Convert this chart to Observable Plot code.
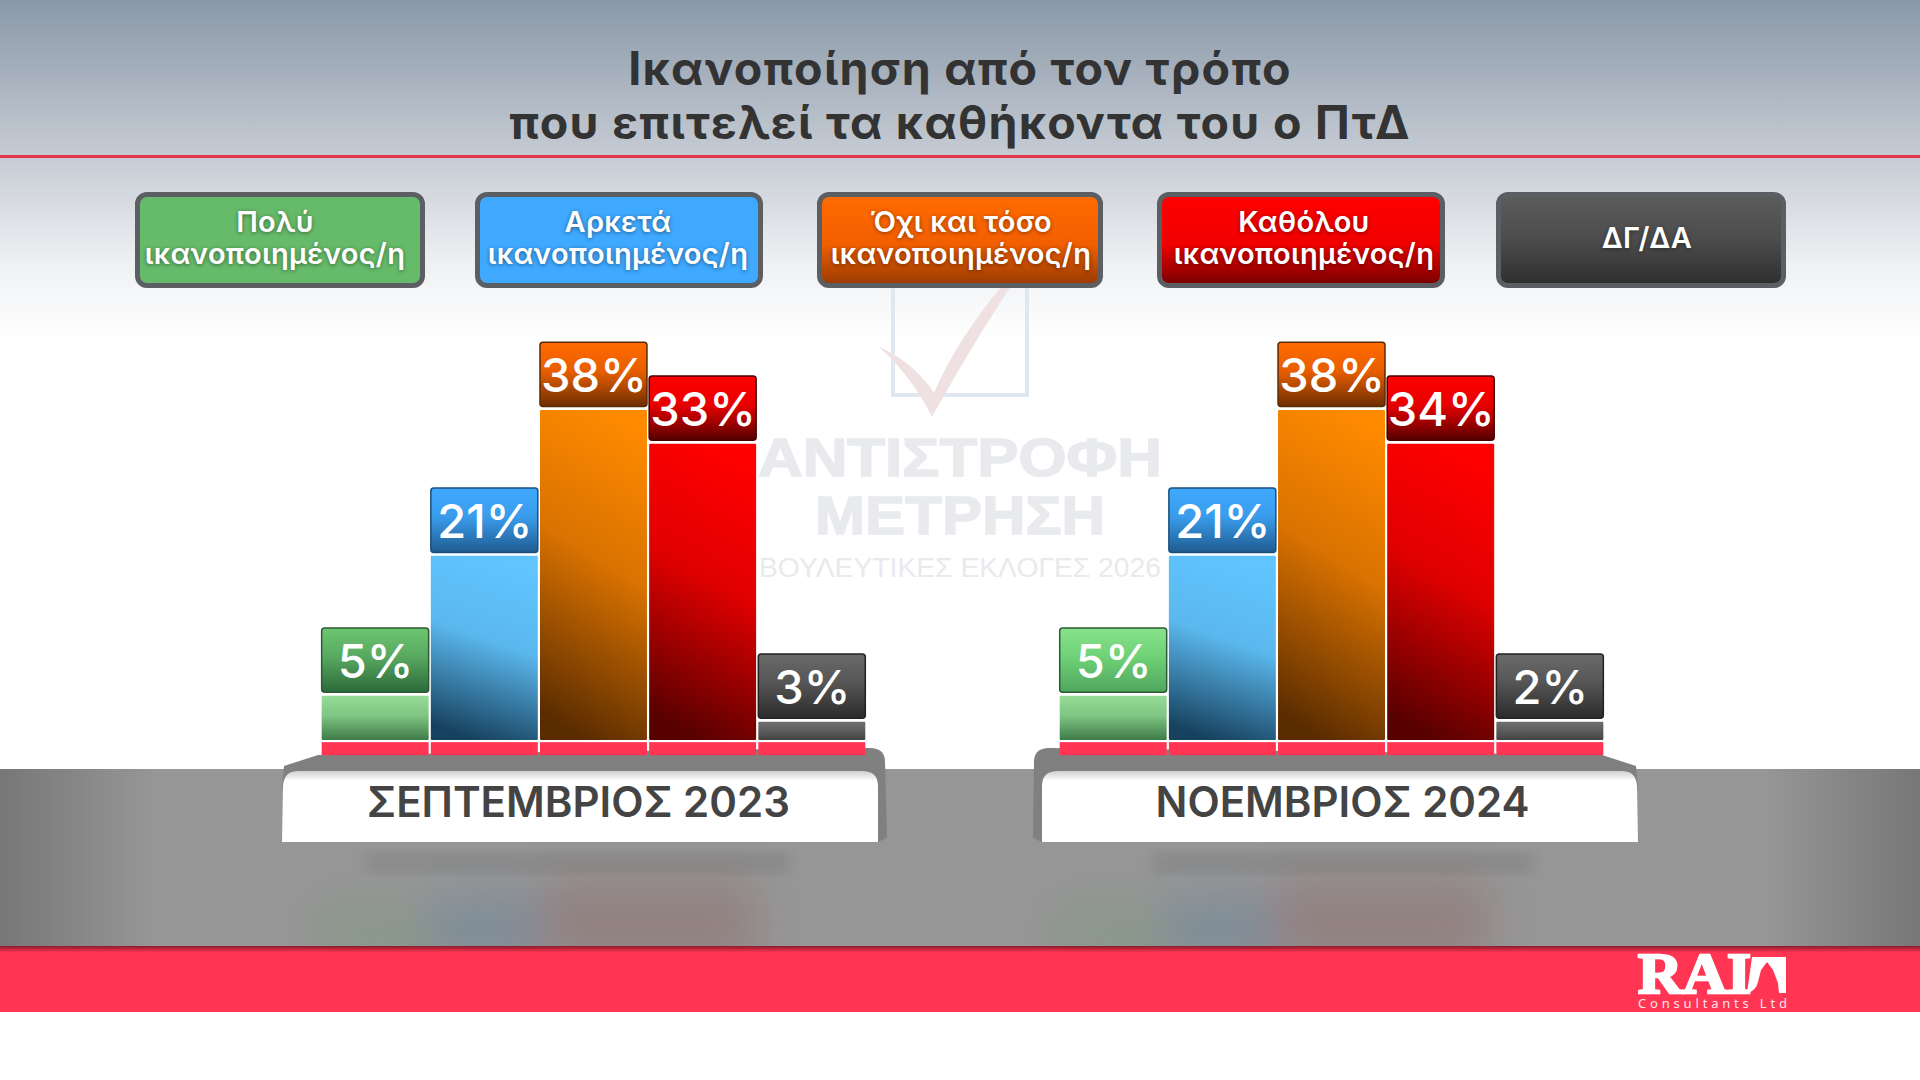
<!DOCTYPE html>
<html lang="el">
<head>
<meta charset="utf-8">
<script src="https://cdn.jsdelivr.net/npm/d3@7"></script>
<script src="https://cdn.jsdelivr.net/npm/@observablehq/plot@0.6"></script>
<style>
html,body{margin:0;padding:0;background:#fff;}
#stage{position:relative;width:1920px;height:1080px;overflow:hidden;font-family:Inter,"Noto Sans",sans-serif;}
#stage>svg,#chart{position:absolute;left:0;top:0;}
#chart svg{display:block;}
#title{position:absolute;left:0;width:1920px;top:41px;text-align:center;color:#333;font-weight:700;font-size:46.5px;line-height:54px;letter-spacing:1.3px;}
.leg{position:absolute;top:192px;height:84px;box-sizing:content-box;border:5px solid #5b5e62;border-radius:12px;color:#fff;font-weight:600;font-size:29px;line-height:32px;text-align:center;display:flex;align-items:center;justify-content:center;text-shadow:0 1px 4px rgba(0,0,0,.45);letter-spacing:.3px;padding-bottom:2px;}
.leg span{position:relative;top:-1px;}
</style>
</head>
<body>
<div id="stage">
<svg width="1920" height="1080" xmlns="http://www.w3.org/2000/svg">
  <defs>
    <linearGradient id="sky" x1="0" y1="0" x2="0" y2="1">
      <stop offset="0" stop-color="#8a98a8"/><stop offset=".46" stop-color="#c6ccd4"/><stop offset=".78" stop-color="#eff1f3"/><stop offset="1" stop-color="#ffffff"/>
    </linearGradient>
    <linearGradient id="floor" x1="0" y1="0" x2="1" y2="0">
      <stop offset="0" stop-color="#777"/><stop offset=".08" stop-color="#969696"/><stop offset=".92" stop-color="#969696"/><stop offset="1" stop-color="#777"/>
    </linearGradient>
    <linearGradient id="band" x1="0" y1="0" x2="0" y2="1">
      <stop offset="0" stop-color="#8c1c2c"/><stop offset=".1" stop-color="#ff3553"/><stop offset="1" stop-color="#ff3553"/>
    </linearGradient>
    <linearGradient id="plate" x1="0" y1="0" x2="0" y2="1">
      <stop offset="0" stop-color="#cfcfcf"/><stop offset=".14" stop-color="#ffffff"/><stop offset="1" stop-color="#ffffff"/>
    </linearGradient>
    <filter id="b4"><feGaussianBlur stdDeviation="6"/></filter>
    <filter id="b12" x="-40%" y="-60%" width="180%" height="220%"><feGaussianBlur stdDeviation="22"/></filter>
  </defs>
  <rect width="1920" height="340" fill="url(#sky)"/>
  <rect y="155" width="1920" height="3" fill="#e0354d"/>

  <!-- watermark -->
  <rect x="893" y="280" width="134" height="115" fill="none" stroke="#dfe8f1" stroke-width="4"/>
  <path d="M879 347C905 358 925 378 934 393C950 355 975 318 1002 286L1015 280C985 325 957 372 932 417C920 392 900 365 879 347Z" fill="#efe0e2"/>
  <g fill="#e8eaed" font-family="'Liberation Sans',Arial,sans-serif" font-weight="700" text-anchor="middle">
    <text x="960" y="476" font-size="54" textLength="404" lengthAdjust="spacingAndGlyphs" stroke="#e8eaed" stroke-width="1.5">ΑΝΤΙΣΤΡΟΦΗ</text>
    <text x="960" y="534" font-size="54" textLength="290" lengthAdjust="spacingAndGlyphs" stroke="#e8eaed" stroke-width="1.5">ΜΕΤΡΗΣΗ</text>
    <text x="960" y="577" font-size="27" font-weight="400" textLength="402" lengthAdjust="spacingAndGlyphs">ΒΟΥΛΕΥΤΙΚΕΣ ΕΚΛΟΓΕΣ 2026</text>
  </g>

  <!-- floor -->
  <rect y="769" width="1920" height="177" fill="url(#floor)"/>
  <g filter="url(#b12)" opacity=".3">
    <rect x="318" y="905" width="110" height="60" fill="#6f9a72"/>
    <rect x="430" y="895" width="110" height="70" fill="#4f7a9e"/>
    <rect x="540" y="880" width="215" height="85" fill="#8a5552"/>
    <rect x="1058" y="905" width="110" height="60" fill="#6f9a72"/>
    <rect x="1166" y="895" width="110" height="70" fill="#4f7a9e"/>
    <rect x="1273" y="880" width="215" height="85" fill="#8a5552"/>
  </g>
  <g filter="url(#b4)" opacity=".1" fill="#333">
    <rect x="366" y="852" width="424" height="22"/>
    <rect x="1152" y="852" width="382" height="22"/>
  </g>

  <!-- platforms -->
  <path d="M282 790L284 766L318 755L870 748Q885 748 885 762L887 838L878 842Z" fill="#808080"/>
  <path d="M1033 838L1034 762Q1034 748 1049 748L1602 755L1636 766L1638 790L1042 842Z" fill="#808080"/>
  <path d="M282 842L283 786Q284 771 298 771L862 771Q878 771 878 786L878 842Z" fill="url(#plate)"/>
  <path d="M1042 842L1042 786Q1042 771 1058 771L1622 771Q1636 771 1637 786L1638 842Z" fill="url(#plate)"/>

  <!-- bottom band and logo -->
  <rect y="946" width="1920" height="66" fill="url(#band)"/>
  <text x="1638" y="993" font-family="'Liberation Serif',serif" font-weight="700" font-size="56" fill="#fff" stroke="#fff" stroke-width="2.5" textLength="113" lengthAdjust="spacingAndGlyphs">RAI</text>
  <path d="M1752 957H1786V993H1779L1778 983L1773 970L1767 962L1761 970L1758 982Q1756 991 1747 993Z" fill="#fff"/>
  <text x="1638" y="1008" font-family="'Noto Sans',sans-serif" font-size="13" fill="#ffe3e7" textLength="149">Consultants Ltd</text>
</svg>

<div id="chart"></div>

<div id="title">Ικανοποίηση από τον τρόπο<br>που επιτελεί τα καθήκοντα του ο ΠτΔ</div>
<div id="legend"></div>
</div>

<script>
const categories = ["Πολύ ικανοποιημένος/η", "Αρκετά ικανοποιημένος/η", "Όχι και τόσο ικανοποιημένος/η", "Καθόλου ικανοποιημένος/η", "ΔΓ/ΔΑ"];
const legendLines = [["Πολύ","ικανοποιημένος/η"],["Αρκετά","ικανοποιημένος/η"],["Όχι και τόσο","ικανοποιημένος/η"],["Καθόλου","ικανοποιημένος/η"],["ΔΓ/ΔΑ"]];
const months = ["ΣΕΠΤΕΜΒΡΙΟΣ 2023", "ΝΟΕΜΒΡΙΟΣ 2024"];
const september2023Labels = [5, 21, 38, 33, 3];
const november2024Labels = [5, 21, 38, 34, 2];
const september2023Bars = [5.1, 21.2, 38, 34.1, 2.1];
const november2024Bars = [5.1, 21.2, 38, 34.1, 2.1];

const barStops = [
  ["#97dc97","#7fc583","#3f7b48"],
  ["#60c5ff","#5bb8ee","#17425f"],
  ["#ff8a00","#d97200","#5a2c00"],
  ["#ff0000","#e00000","#560000"],
  ["#6e6e6e","#5e5e5e","#444444"]
];
const tileStops = [
  [["#6cc770","#58a860","#2c6a3a"],["#87e38b","#6fd177","#4fa65d"]],
  [["#3fa9ff","#3a9bea","#1f5c92"],["#3fa9ff","#3a9bea","#1f5c92"]],
  [["#ff6a00","#e85e00","#6e2e00"],["#ff6a00","#e85e00","#6e2e00"]],
  [["#ff0000","#e80000","#560000"],["#ff0000","#e80000","#560000"]],
  [["#6a6a6a","#555555","#2b2b2b"],["#6a6a6a","#555555","#2b2b2b"]]
];
const tileBorders = ["#2c5a36","#1b4f7c","#5c2a00","#4a0000","#222222"];
const legendFills = [
  "#66bb6a",
  "#3fa9ff",
  "linear-gradient(#ff6a00 0%,#f25f00 55%,#9c3c00 100%)",
  "linear-gradient(#ff0000 0%,#f00000 55%,#7c0000 100%)",
  "linear-gradient(#5b5b5b 0%,#4c4c4c 50%,#2f2f2f 100%)"
];

const rows = [];
months.forEach((month, m) => {
  const bars = m === 0 ? september2023Bars : november2024Bars;
  const labels = m === 0 ? september2023Labels : november2024Labels;
  categories.forEach((category, i) => {
    const bar = bars[i];
    rows.push({month, m, i, category, bar, label: labels[i] + "%",
      barFill: `url(#bar${i})`, tileFill: `url(#tile${i}-${m})`, border: tileBorders[i],
      tileLow: bar + 0.4, tileHigh: bar + 0.4 + 7.4, tileMid: bar + 0.4 + 3.7});
  });
});

const ns = "http://www.w3.org/2000/svg";
function gradientDefs() {
  const defs = document.createElementNS(ns, "defs");
  const add = (id, stops, diagonal) => {
    const g = document.createElementNS(ns, "linearGradient");
    g.setAttribute("id", id);
    g.setAttribute("x1", diagonal ? 0.62 : 0); g.setAttribute("y1", 0);
    g.setAttribute("x2", diagonal ? 0.42 : 0); g.setAttribute("y2", 1);
    [0, .45, 1].forEach((o, k) => {
      const s = document.createElementNS(ns, "stop");
      s.setAttribute("offset", o); s.setAttribute("stop-color", stops[k]); g.appendChild(s);
    });
    defs.appendChild(g);
  };
  barStops.forEach((s, i) => add(`bar${i}`, s, i >= 1 && i <= 3));
  tileStops.forEach((pair, i) => pair.forEach((s, m) => add(`tile${i}-${m}`, s, false)));
  return defs;
}

const monthText = (month, dx) => Plot.text([{month}], {
  fx: "month", frameAnchor: "bottom", dy: -277, dx, x: () => categories[2], text: "month",
  fill: "#444", fontSize: 42, fontWeight: 600, fontFamily: "Inter, sans-serif", lineAnchor: "middle"
});

const plot = Plot.plot({
  width: 1920, height: 1080, margin: 0, marginLeft: 5,
  style: {background: "transparent"},
  fx: {domain: months, paddingInner: 0.2575, paddingOuter: 0.4261, axis: null, label: null, round: false},
  x: {domain: categories, padding: 0.02, axis: null, label: null, round: false},
  y: {domain: [-39.15, 85.2], axis: null, label: null},
  color: {type: "identity"},
  marks: [
    gradientDefs,
    Plot.barY(rows, {fx: "month", x: "category", y1: -0.25, y2: -1.75, fill: "#ff3553"}),
    Plot.barY(rows, {fx: "month", x: "category", y1: 0, y2: "bar", fill: "barFill", rx: 1}),
    Plot.barY(rows, {fx: "month", x: "category", y1: "tileLow", y2: "tileHigh", fill: "tileFill", stroke: "border", strokeWidth: 1.5, rx: 3}),
    Plot.text(rows, {fx: "month", x: "category", y: "tileMid", dy: 2, text: "label", fill: "#fff", fontSize: 47, fontWeight: 500, fontFamily: "Inter, sans-serif", lineAnchor: "middle"}),
    monthText(months[0], -15.5),
    monthText(months[1], 10.5)
  ]
});
document.getElementById("chart").appendChild(plot);

const legendX = [135, 475, 817, 1157, 1496];
const legendW = [280, 278, 276, 278, 280];
const legendShift = [-5, -1, 1, 3, 6];
const legendEl = document.getElementById("legend");
legendLines.forEach((lines, i) => {
  const d = document.createElement("div");
  d.className = "leg";
  d.style.left = legendX[i] + "px";
  d.style.width = legendW[i] + "px";
  d.style.background = legendFills[i];
  const s = document.createElement("span");
  s.style.left = legendShift[i] + "px";
  s.innerHTML = lines.join("<br>");
  d.appendChild(s);
  legendEl.appendChild(d);
});
</script>
</body>
</html>
